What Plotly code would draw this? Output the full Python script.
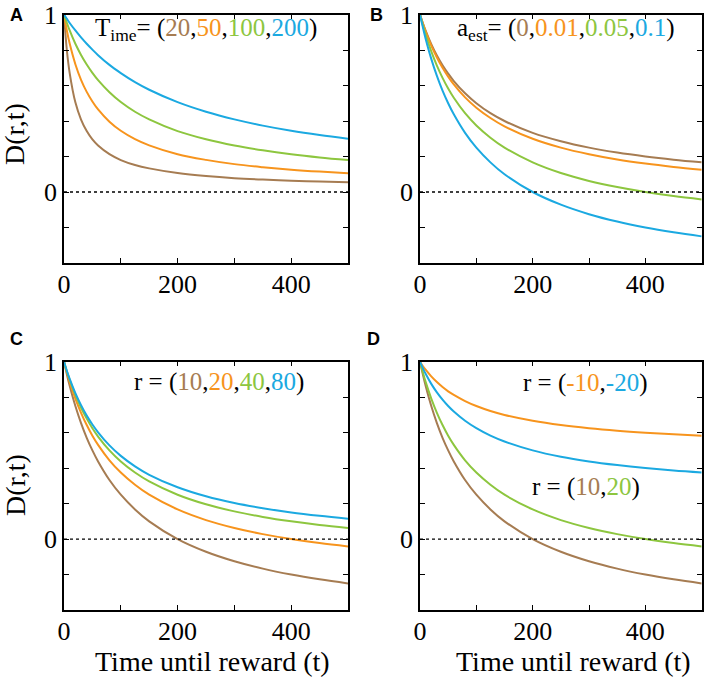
import plotly.graph_objects as go

# ---- data ----
t = [0, 5, 10, 20, 30, 40, 50, 60, 80, 100, 125, 150, 200, 250, 300, 350, 400, 450, 500]

# Panel A: T_ime = 20, 50, 100, 200
a_T20  = [1, 0.80, 0.67, 0.505, 0.408, 0.343, 0.296, 0.262, 0.213, 0.18, 0.152, 0.133, 0.107, 0.09, 0.078, 0.07, 0.064, 0.059, 0.055]
a_T50  = [1, 0.91, 0.836, 0.72, 0.632, 0.564, 0.51, 0.465, 0.396, 0.345, 0.298, 0.263, 0.213, 0.181, 0.157, 0.14, 0.126, 0.115, 0.106]
a_T100 = [1, 0.953, 0.91, 0.835, 0.772, 0.718, 0.671, 0.63, 0.562, 0.507, 0.452, 0.409, 0.343, 0.297, 0.262, 0.235, 0.213, 0.195, 0.18]
a_T200 = [1, 0.976, 0.952, 0.91, 0.871, 0.835, 0.802, 0.771, 0.716, 0.67, 0.619, 0.576, 0.506, 0.452, 0.409, 0.374, 0.345, 0.321, 0.30]

# Panel B: a_est = 0, 0.01, 0.05, 0.1
b_a0    = [1, 0.952, 0.909, 0.833, 0.769, 0.714, 0.667, 0.625, 0.556, 0.5, 0.444, 0.4, 0.333, 0.286, 0.25, 0.222, 0.2, 0.182, 0.167]
b_a001  = [1, 0.95, 0.905, 0.825, 0.758, 0.70, 0.65, 0.606, 0.533, 0.475, 0.417, 0.37, 0.30, 0.25, 0.2125, 0.183, 0.16, 0.141, 0.125]
b_a005  = [1, 0.94, 0.886, 0.792, 0.712, 0.643, 0.583, 0.531, 0.444, 0.375, 0.306, 0.25, 0.167, 0.107, 0.0625, 0.0278, 0.0, -0.0227, -0.0417]
b_a01   = [1, 0.929, 0.864, 0.75, 0.654, 0.571, 0.5, 0.4375, 0.333, 0.25, 0.167, 0.1, 0.0, -0.0714, -0.125, -0.1667, -0.2, -0.227, -0.25]

# Panel C: r = 10, 20, 40, 80
c_r10 = [1, 0.929, 0.864, 0.75, 0.654, 0.571, 0.5, 0.4375, 0.333, 0.25, 0.167, 0.1, 0.0, -0.0714, -0.125, -0.1667, -0.2, -0.227, -0.25]
c_r20 = [1, 0.94, 0.886, 0.792, 0.712, 0.643, 0.583, 0.531, 0.444, 0.375, 0.306, 0.25, 0.167, 0.107, 0.0625, 0.0278, 0.0, -0.0227, -0.0417]
c_r40 = [1, 0.946, 0.898, 0.8125, 0.74, 0.679, 0.625, 0.578, 0.5, 0.4375, 0.375, 0.325, 0.25, 0.196, 0.156, 0.125, 0.1, 0.0795, 0.0625]
c_r80 = [1, 0.949, 0.903, 0.823, 0.755, 0.696, 0.646, 0.602, 0.528, 0.469, 0.41, 0.3625, 0.292, 0.241, 0.203, 0.174, 0.15, 0.131, 0.115]

# Panel D: r = 10, 20, -10, -20
d_r10  = [1, 0.929, 0.864, 0.75, 0.654, 0.571, 0.5, 0.4375, 0.333, 0.25, 0.167, 0.1, 0.0, -0.0714, -0.125, -0.1667, -0.2, -0.227, -0.25]
d_r20  = [1, 0.94, 0.886, 0.792, 0.712, 0.643, 0.583, 0.531, 0.444, 0.375, 0.306, 0.25, 0.167, 0.107, 0.0625, 0.0278, 0.0, -0.0227, -0.0417]
d_rm10 = [1, 0.976, 0.955, 0.917, 0.885, 0.857, 0.833, 0.8125, 0.778, 0.75, 0.722, 0.70, 0.667, 0.643, 0.625, 0.611, 0.60, 0.591, 0.583]
d_rm20 = [1, 0.964, 0.932, 0.875, 0.827, 0.786, 0.75, 0.719, 0.667, 0.625, 0.583, 0.55, 0.5, 0.464, 0.4375, 0.417, 0.40, 0.386, 0.375]

x_tickvals = [0, 100, 200, 300, 400, 500]
x_ticktext = ["0", "", "200", "", "400", ""]
y_tickvals = [-0.4, -0.2, 0, 0.2, 0.4, 0.6, 0.8, 1.0]
y_ticktext = ["", "", "0", "", "", "", "", "1"]

BROWN = "#A67C52"
ORANGE = "#F7941D"
GREEN = "#8DC63F"
BLUE = "#1BA9E1"

W, H = 708, 683
SERIF = "Liberation Serif, Times New Roman, serif"
SANS = "Liberation Sans, Arial, sans-serif"

def px(x):
    return x / W

def py(y):
    return 1 - y / H

# panel pixel boxes (left, right, top, bottom)
boxes = {
    1: (64, 348, 14.5, 263),
    2: (420, 701.7, 14.5, 263),
    3: (64, 348, 361.7, 610),
    4: (420, 701.7, 361.7, 610),
}

panels = {
    1: [(a_T20, BROWN), (a_T50, ORANGE), (a_T100, GREEN), (a_T200, BLUE)],
    2: [(b_a0, BROWN), (b_a001, ORANGE), (b_a005, GREEN), (b_a01, BLUE)],
    3: [(c_r10, BROWN), (c_r20, ORANGE), (c_r40, GREEN), (c_r80, BLUE)],
    4: [(d_r10, BROWN), (d_r20, GREEN), (d_rm10, ORANGE), (d_rm20, BLUE)],
}

fig = go.Figure()
layout = dict(
    width=W, height=H,
    margin=dict(l=0, r=0, t=0, b=0, autoexpand=False),
    paper_bgcolor="white", plot_bgcolor="white",
    showlegend=False,
)

for i in range(1, 5):
    sfx = "" if i == 1 else str(i)
    l, r, tp, bt = boxes[i]
    layout["xaxis" + sfx] = dict(
        domain=[px(l), px(r)], range=[0, 500], anchor="y" + sfx,
        tickvals=x_tickvals, ticktext=x_ticktext, automargin=False,
        ticks="inside", ticklen=5, tickwidth=1.2, tickcolor="black",
        showline=True, linecolor="black", linewidth=1.5, mirror="ticks",
        showgrid=False, zeroline=False, ticklabelstandoff=-3,
        ticklabeloverflow="allow",
        tickfont=dict(family=SERIF, size=26, color="black"),
    )
    layout["yaxis" + sfx] = dict(
        domain=[py(bt), py(tp)], range=[-0.4, 1.0], anchor="x" + sfx,
        tickvals=y_tickvals, ticktext=y_ticktext, automargin=False,
        ticks="inside", ticklen=5, tickwidth=1.2, tickcolor="black",
        showline=True, linecolor="black", linewidth=1.5, mirror="ticks",
        showgrid=False, zeroline=False, ticklabelstandoff=0,
        ticklabeloverflow="allow",
        tickfont=dict(family=SERIF, size=26, color="black"),
    )
    for ys, col in panels[i]:
        fig.add_trace(go.Scatter(
            x=t, y=ys, mode="lines", line=dict(color=col, width=2, shape="spline"),
            xaxis="x" + sfx, yaxis="y" + sfx, hoverinfo="skip",
        ))

fig.update_layout(**layout)

for i in range(1, 5):
    sfx = "" if i == 1 else str(i)
    fig.add_shape(type="line", xref="x" + sfx + " domain", yref="y" + sfx,
                  x0=0, x1=1, y0=0, y1=0,
                  line=dict(color="black", width=1.3, dash="dot"))

def c(txt, col):
    return "<span style='color:%s'>%s</span>" % (col, txt)

annotations = []
def ann(x, y, text, size, family=SERIF, angle=0):
    annotations.append(dict(
        x=px(x), y=py(y), xref="paper", yref="paper", text=text,
        showarrow=False, xanchor="center", yanchor="middle", textangle=angle,
        font=dict(family=family, size=size, color="black"),
    ))

ann(16, 15, "<b>A</b>", 18, SANS)
ann(377, 15, "<b>B</b>", 18, SANS)
ann(16, 339, "<b>C</b>", 18, SANS)
ann(373, 339, "<b>D</b>", 18, SANS)

ann(206, 30, "T<sub>ime</sub>= (" + c("20", BROWN) + "," + c("50", ORANGE) + "," + c("100", GREEN) + "," + c("200", BLUE) + ")", 25)
ann(566, 30, "a<sub>est</sub>= (" + c("0", BROWN) + "," + c("0.01", ORANGE) + "," + c("0.05", GREEN) + "," + c("0.1", BLUE) + ")", 25)
ann(219, 382, "r = (" + c("10", BROWN) + "," + c("20", ORANGE) + "," + c("40", GREEN) + "," + c("80", BLUE) + ")", 25)
ann(585, 383, "r = (" + c("-10", ORANGE) + "," + c("-20", BLUE) + ")", 25)
ann(586, 487, "r = (" + c("10", BROWN) + "," + c("20", GREEN) + ")", 25)

ann(15, 134, "D(r,t)", 28, angle=-90)
ann(15, 485, "D(r,t)", 28, angle=-90)
ann(212, 661, "Time until reward (t)", 28)
ann(573, 661, "Time until reward (t)", 28)

fig.update_layout(annotations=annotations)

# remove the default 8px page margin so the figure fills the window exactly
fig.write_html("out.html", config={"displayModeBar": False},
               post_script="document.body.style.margin='0';")
